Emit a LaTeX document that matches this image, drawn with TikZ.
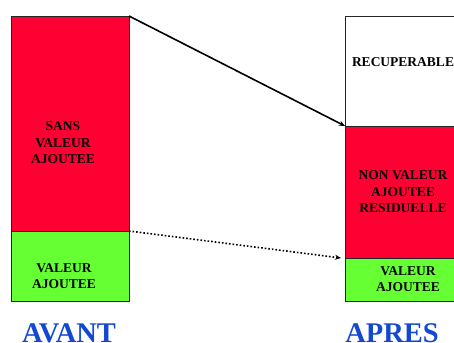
\documentclass[tikz,border=0pt]{standalone}
\usepackage{fontspec}
\setmainfont{Liberation Serif}[BoldFont={Liberation Serif Bold}]
\usetikzlibrary{arrows.meta}
\definecolor{nvred}{HTML}{FF0033}
\definecolor{vagreen}{HTML}{66FF33}
\definecolor{titleblue}{HTML}{1248D2}

\begin{document}
\begin{tikzpicture}[x=1pt,y=-1pt,
  block/.style={draw=black!85, line width=0.8pt, inner sep=0pt, outer sep=0pt, anchor=north west},
  lbl/.style={font=\rmfamily\bfseries\fontsize{13.5}{16.5}\selectfont, align=center, inner sep=0pt},
  ttl/.style={font=\rmfamily\bfseries\fontsize{28.5}{30}\selectfont, text=titleblue, anchor=base, inner sep=0pt},
  flow/.style={line width=1.6pt, -{Stealth[length=6pt,width=5pt]}},
  dotflow/.style={line width=1.6pt, dash pattern=on 1.6pt off 2pt, -{Stealth[length=6pt,width=5pt]}}]
\useasboundingbox (0,0) rectangle (454,342);
\clip (0,0) rectangle (454,342);

% before: two stacked blocks
\node[block, fill=nvred, minimum width=118pt, minimum height=215pt] (sva) at (11,16) {};
\node[block, fill=vagreen, minimum width=118pt, minimum height=70pt] (va) at (11,231) {};

% after: three stacked blocks
\node[block, fill=white, minimum width=118pt, minimum height=110pt] (rec) at (345,16) {};
\node[block, fill=nvred, minimum width=118pt, minimum height=132pt] (nvr) at (345,126) {};
\node[block, fill=vagreen, minimum width=118pt, minimum height=43pt] (vaR) at (345,258) {};

% block labels
\node[lbl] (tsva) at (63,143) {SANS\\VALEUR\\AJOUTEE};
\node[lbl] (tva) at (64,276) {VALEUR\\AJOUTEE};
\node[lbl] (trec) at (403,62) {RECUPERABLE};
\node[lbl] (tnvr) at (403,192) {NON VALEUR\\AJOUTEE\\RESIDUELLE};
\node[lbl] (tvaR) at (408,279) {VALEUR\\AJOUTEE};

% transitions
\coordinate (dotend) at ([xshift=-4pt]vaR.north west);
\draw[flow] (sva.north east) -- (rec.south west);
\draw[dotflow] (va.north east) -- (dotend);

% titles
\node[ttl] (avant) at (69,342) {AVANT};
\node[ttl] (apres) at (392,342) {APRES};
\end{tikzpicture}
\end{document}
